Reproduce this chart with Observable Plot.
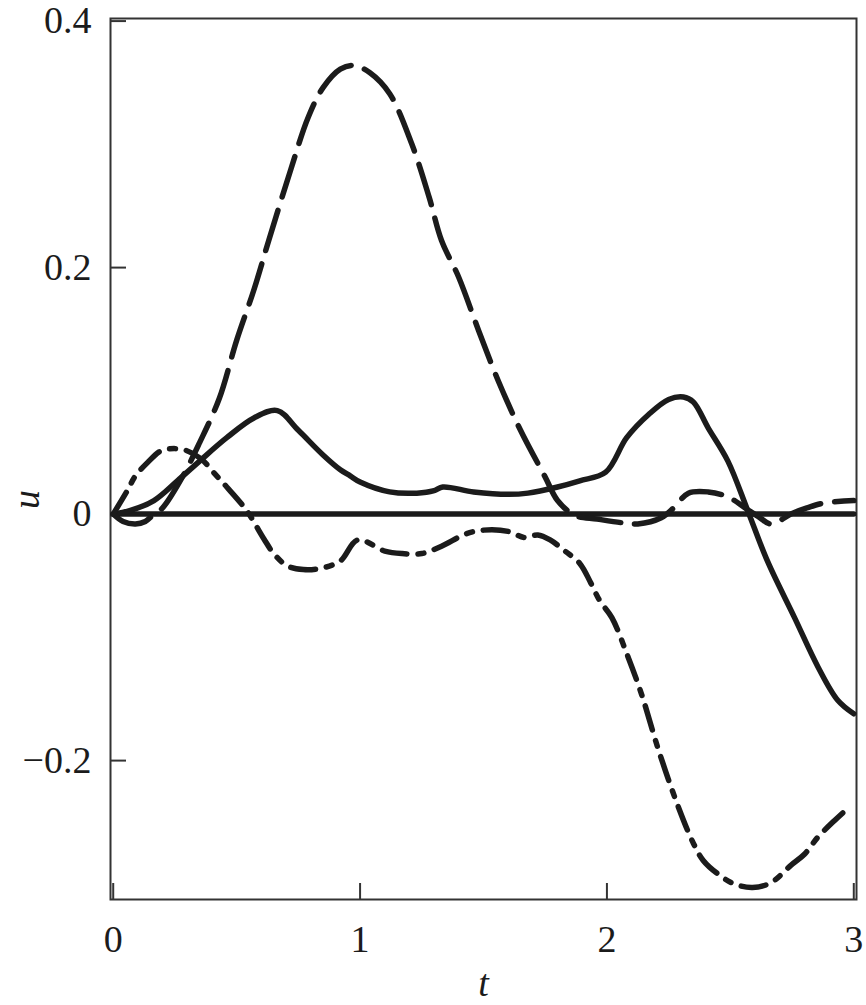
<!DOCTYPE html>
<html>
<head>
<meta charset="utf-8">
<script src="https://cdn.jsdelivr.net/npm/d3@7"></script>
<script src="https://cdn.jsdelivr.net/npm/@observablehq/plot@0.6"></script>
<style>
  html, body { margin: 0; padding: 0; background: white; }
  svg text { font-family: 'Liberation Serif', 'Times New Roman', serif; }
</style>
</head>
<body>
<div id="chart"></div>
<script>
// Tick values and labels
const xTicks = [0, 1, 2, 3];
const xTickLabels = ["0", "1", "2", "3"];
const yTicks = [-0.2, 0, 0.2, 0.4];
const yTickLabels = ["\u22120.2", "0", "0.2", "0.4"];

// Dashed curve
const dashedT = [0, 0.04, 0.09, 0.13, 0.16, 0.2, 0.28, 0.35, 0.43, 0.5, 0.57, 0.63, 0.72, 0.79, 0.85, 0.92, 0.975, 1.04, 1.12, 1.21, 1.28, 1.33, 1.40, 1.48, 1.56, 1.65, 1.75, 1.80, 1.87, 1.96, 2.06, 2.125, 2.22, 2.27, 2.33, 2.41, 2.49, 2.56, 2.62, 2.665, 2.75, 2.81, 2.88, 3.0];
const dashedU = [0, -0.006, -0.008, -0.006, -0.001, 0.005, 0.03, 0.058, 0.094, 0.141, 0.182, 0.222, 0.280, 0.322, 0.346, 0.361, 0.364, 0.358, 0.341, 0.300, 0.257, 0.222, 0.192, 0.149, 0.108, 0.068, 0.030, 0.011, -0.001, -0.004, -0.007, -0.008, -0.003, 0.005, 0.017, 0.018, 0.014, 0.005, -0.003, -0.008, 0.0005, 0.005, 0.009, 0.011];

// Solid curve
const solidT = [0, 0.07, 0.165, 0.26, 0.35, 0.46, 0.57, 0.665, 0.75, 0.85, 0.92, 0.96, 1.0, 1.12, 1.23, 1.30, 1.335, 1.46, 1.60, 1.68, 1.80, 1.89, 1.995, 2.08, 2.17, 2.25, 2.31, 2.35, 2.41, 2.49, 2.57, 2.65, 2.76, 2.855, 2.935, 3.0];
const solidU = [0, 0.003, 0.011, 0.027, 0.043, 0.062, 0.078, 0.084, 0.068, 0.048, 0.036, 0.031, 0.026, 0.018, 0.017, 0.019, 0.022, 0.018, 0.016, 0.017, 0.022, 0.027, 0.034, 0.062, 0.081, 0.093, 0.095, 0.091, 0.070, 0.043, 0.003, -0.038, -0.084, -0.124, -0.151, -0.162];

// Dash-dot curve
const dashDotT = [0, 0.057, 0.09, 0.14, 0.19, 0.23, 0.29, 0.355, 0.41, 0.46, 0.54, 0.61, 0.65, 0.705, 0.77, 0.84, 0.92, 0.99, 1.10, 1.17, 1.25, 1.33, 1.43, 1.50, 1.60, 1.665, 1.72, 1.77, 1.83, 1.89, 1.935, 1.97, 2.02, 2.08, 2.14, 2.21, 2.29, 2.35, 2.39, 2.45, 2.515, 2.59, 2.665, 2.745, 2.80, 2.855, 2.92, 2.98];
const dashDotU = [0, 0.019, 0.031, 0.042, 0.051, 0.053, 0.052, 0.045, 0.033, 0.022, 0.003, -0.02, -0.032, -0.042, -0.045, -0.044, -0.038, -0.021, -0.030, -0.032, -0.032, -0.026, -0.016, -0.013, -0.014, -0.019, -0.017, -0.021, -0.030, -0.040, -0.056, -0.070, -0.084, -0.113, -0.146, -0.192, -0.238, -0.267, -0.281, -0.292, -0.300, -0.303, -0.299, -0.285, -0.276, -0.262, -0.249, -0.238];

// Zero reference line
const zeroT = [0, 3];
const zeroU = [0, 0];

const toRows = (ts, us) => ts.map((t, i) => ({t, u: us[i]}));
const ink = "#1b1b1b";
const serif = "'Liberation Serif', 'Times New Roman', serif";

const chart = Plot.plot({
  width: 866,
  height: 1005,
  marginLeft: 110,
  marginRight: 10,
  marginTop: 18,
  marginBottom: 106,
  x: {domain: [-0.011, 3.011]},
  y: {domain: [-0.3127, 0.4021]},
  style: {fontFamily: serif, fontSize: "38px", color: ink, background: "white"},
  marks: [
    Plot.frame({stroke: "#333", strokeWidth: 2}),
    Plot.axisX(xTicks, {tickSize: -16, fill: "none", stroke: "#333", strokeWidth: 2, label: null}),
    Plot.axisX(xTicks, {tickSize: 0, tickPadding: 26, tickFormat: d => xTickLabels[xTicks.indexOf(d)], label: null, fontSize: 38, fontFamily: serif}),
    Plot.axisY(yTicks, {tickSize: -16, fill: "none", stroke: "#333", strokeWidth: 2, label: null}),
    Plot.axisY(yTicks, {tickSize: 0, tickPadding: 19, tickFormat: d => yTickLabels[yTicks.indexOf(d)], label: null, fontSize: 38, fontFamily: serif}),
    Plot.line(toRows(zeroT, zeroU), {x: "t", y: "u", stroke: ink, strokeWidth: 5.5}),
    Plot.line(toRows(solidT, solidU), {x: "t", y: "u", stroke: ink, strokeWidth: 5.5, curve: "catmull-rom"}),
    Plot.line(toRows(dashedT, dashedU), {x: "t", y: "u", stroke: ink, strokeWidth: 5.5, strokeDasharray: "42,14", curve: "catmull-rom"}),
    Plot.line(toRows(dashDotT, dashDotU), {x: "t", y: "u", stroke: ink, strokeWidth: 5.5, strokeDasharray: "25,11,6,11", curve: "catmull-rom"}),
    Plot.text(["u"], {frameAnchor: "left", dx: -84, dy: 50, rotate: -90, fontStyle: "italic", fontSize: 38, fontFamily: serif, fill: ink}),
    Plot.text(["t"], {frameAnchor: "bottom", dy: 84, fontStyle: "italic", fontSize: 38, fontFamily: serif, fill: ink, lineAnchor: "middle"})
  ]
});
document.getElementById("chart").appendChild(chart);
</script>
</body>
</html>
